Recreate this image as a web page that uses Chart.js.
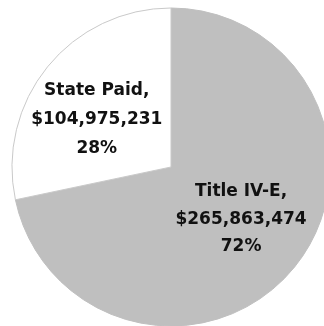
<!DOCTYPE html>
<html>
<head>
<meta charset="utf-8">
<script src="https://cdn.jsdelivr.net/npm/chart.js@4"></script>
<style>
  html, body { margin: 0; padding: 0; background: #fff; overflow: hidden; }
  #wrap { position: absolute; left: 11px; top: 7px; width: 320px; height: 320px; }
</style>
</head>
<body>
<div id="wrap"><canvas id="graf_gastos" width="320" height="320"></canvas></div>
<script>
// Categorias y montos
var categorias = ['Title IV-E', 'State Paid'];
var montos = [265863474, 104975231];
var porcentajes = ['72%', '28%'];
var colores = ['#bfbfbf', '#ffffff'];
var bordes = ['#bfbfbf', '#c9c9c9'];

// Etiquetas dentro de cada porcion
var etiquetas = {
  id: 'etiquetas',
  afterDatasetsDraw: function (chart) {
    var ctx = chart.ctx;
    var arcs = chart.getDatasetMeta(0).data;
    ctx.save();
    ctx.font = 'bold 17px "DejaVu Sans"';
    ctx.fillStyle = '#111111';
    ctx.textAlign = 'center';
    ctx.textBaseline = 'middle';
    arcs.forEach(function (arc, i) {
      var p = arc.getProps(['x', 'y', 'startAngle', 'endAngle', 'outerRadius']);
      var mid = (p.startAngle + p.endAngle) / 2 - (i === 1 ? 0.11 : 0.04);
      var r = p.outerRadius * (i === 1 ? 0.555 : 0.55);
      var x = p.x + Math.cos(mid) * r;
      var y = p.y + Math.sin(mid) * r;
      var lh = i === 1 ? 29 : 27.5;
      var lineas = [categorias[i] + ',', '$' + montos[i].toLocaleString('en-US'), porcentajes[i]];
      lineas.forEach(function (t, k) {
        ctx.fillText(t, x, y + (k - 1) * lh);
      });
    });
    ctx.restore();
  }
};

var ctx = document.getElementById('graf_gastos').getContext('2d');

var graf_gastos = new Chart(ctx, {
  type: 'pie',
  data: {
    labels: categorias,
    datasets: [{
      data: montos,
      backgroundColor: colores,
      borderColor: bordes,
      borderWidth: 1
    }]
  },
  options: {
    responsive: false,
    animation: false,
    radius: 159,
    plugins: {
      legend: { display: false },
      tooltip: { enabled: false }
    }
  },
  plugins: [etiquetas]
});
</script>
</body>
</html>
